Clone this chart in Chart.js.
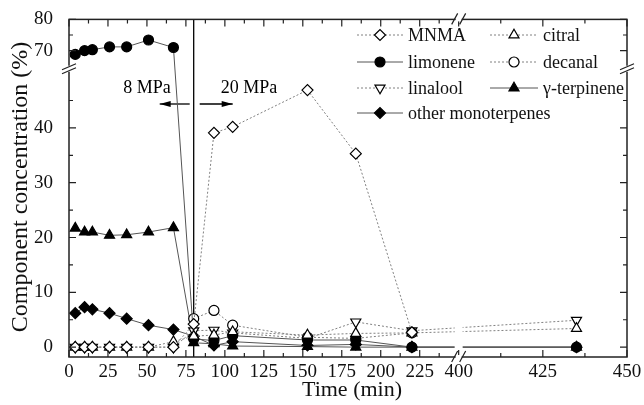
<!DOCTYPE html>
<html><head><meta charset="utf-8">
<script src="https://cdn.jsdelivr.net/npm/chart.js@4/dist/chart.umd.min.js"></script>
<style>html,body{margin:0;padding:0;background:#fff}#wrap{width:644px;height:405px;position:relative}</style>
</head><body><div id="wrap"><canvas id="c"></canvas></div>
<script>
// ---- data ----
const times = [4, 10, 15, 26, 37, 51, 67, 80, 93, 105, 153, 184, 220, 435];
const mnma = [0, 0, 0, 0, 0, 0, 0, 4.2, 39.1, 40.2, 46.9, 35.3, 2.7, null];
const citral = [0, 0, 0, 0, 0, 0, 1.0, 2.0, 2.2, 2.8, 2.2, 2.5, 2.6, 3.4];
const limonene = [68.8, 70.0, 70.3, 71.2, 71.2, 73.4, 71.0, 1.5, 1.2, 2.1, 1.3, 1.3, 0, 0];
const decanal = [null, null, null, null, null, null, null, 5.2, 6.7, 4.0, 1.8, 1.6, 2.6, null];
const linalool = [0, 0, 0, 0, 0, 0, 0, 3.0, 3.1, 2.6, 1.6, 4.6, 3.0, 4.9];
const gammaTerpinene = [21.7, 21.0, 21.0, 20.4, 20.5, 21.0, 21.8, 0.8, 0.6, 0.2, 0.1, 0, 0, 0];
const otherMonoterpenes = [6.2, 7.3, 6.9, 6.2, 5.2, 4.0, 3.2, 2.0, 0.3, 1.0, 0.3, 0.5, 0, 0];
const seriesNames = ['MNMA', 'citral', 'limonene', 'decanal', 'linalool', '\u03b3-terpinene', 'other monoterpenes'];
const xTickLabels = [0, 25, 50, 75, 100, 125, 150, 175, 200, 225, 400, 425, 450];
const yTickLabels = [0, 10, 20, 30, 40, 70, 80];
const xMinorTicks = [12.5, 37.5, 62.5, 87.5, 112.5, 137.5, 162.5, 187.5, 212.5, 237.5, 412.5, 437.5];
const yMinorTicks = [5, 15, 25, 35, 45, 75];
const pressureChangeTime = 80;

// ---- broken-axis transforms ----
const X_BREAK_LO = 250, X_BREAK_HI = 400, X_SCALE2 = 2.16;
function tx(t) { return t <= X_BREAK_LO ? t : X_BREAK_LO + (t - X_BREAK_HI) * X_SCALE2; }
const Y_BREAK = 52, Y_UP_BASE = 70, Y_UP_AT = 54.1, Y_SCALE2 = 0.57;
function ty(v) { return v <= Y_BREAK ? v : Y_UP_AT + (v - Y_UP_BASE) * Y_SCALE2; }

function pts(vals) {
  const out = [];
  times.forEach((t, i) => { if (vals[i] != null) out.push({ x: tx(t), y: ty(vals[i]) }); });
  return out;
}

const FONT = "'Liberation Serif', 'Times New Roman', serif";
const DOT = '#808080', SOLID = '#555';

function ds(label, vals, style, filled, dotted, radius, rotation) {
  return {
    label, data: pts(vals),
    borderColor: dotted ? DOT : SOLID, borderWidth: 1, borderDash: dotted ? [2, 2] : [],
    pointStyle: style, pointRotation: rotation || 0, pointRadius: radius,
    pointBackgroundColor: filled ? '#000' : '#fff', pointBorderColor: '#000', pointBorderWidth: 1.2,
    showLine: true, tension: 0
  };
}

const datasets = [
  ds(seriesNames[0], mnma, 'rectRot', false, true, 5.5),
  ds(seriesNames[1], citral, 'triangle', false, true, 5.8),
  ds(seriesNames[2], limonene, 'circle', true, false, 5),
  ds(seriesNames[3], decanal, 'circle', false, true, 5),
  ds(seriesNames[4], linalool, 'triangle', false, true, 5.8, 180),
  ds(seriesNames[5], gammaTerpinene, 'triangle', true, false, 5.8),
  ds(seriesNames[6], otherMonoterpenes, 'rectRot', true, false, 5.5)
];

function arrow(ctx, x1, y, x2) {
  ctx.beginPath(); ctx.moveTo(x1, y); ctx.lineTo(x2, y); ctx.stroke();
  const d = x2 > x1 ? 1 : -1;
  ctx.beginPath(); ctx.moveTo(x2, y); ctx.lineTo(x2 - d * 11, y - 3); ctx.lineTo(x2 - d * 11, y + 3); ctx.closePath(); ctx.fill();
}

const decor = {
  id: 'decor',
  beforeDatasetsDraw(chart) {
    const { ctx, chartArea: a, scales: { x } } = chart;
    const vx = x.getPixelForValue(tx(pressureChangeTime));
    ctx.save();
    ctx.strokeStyle = '#000'; ctx.fillStyle = '#000'; ctx.lineWidth = 1.3;
    ctx.beginPath(); ctx.moveTo(vx, a.top); ctx.lineTo(vx, a.bottom); ctx.stroke();
    arrow(ctx, vx - 4, 104, vx - 34);
    arrow(ctx, vx + 6, 104, vx + 39);
    ctx.font = '18px ' + FONT; ctx.textBaseline = 'middle';
    ctx.textAlign = 'right'; ctx.fillText('8 MPa', vx - 23, 88);
    ctx.textAlign = 'left'; ctx.fillText('20 MPa', vx + 27, 88);
    ctx.restore();
  },
  afterDatasetsDraw(chart) {
    const { ctx, chartArea: a, scales: { x, y } } = chart;
    const bx = x.getPixelForValue(tx(X_BREAK_LO));
    const by = y.getPixelForValue(50.8);
    ctx.save();
    ctx.fillStyle = '#fff';
    ctx.fillRect(bx - 4, a.bottom - 60, 8, 59);
    ctx.strokeStyle = '#222'; ctx.lineWidth = 1.5;
    ctx.strokeRect(a.left, a.top, a.right - a.left, a.bottom - a.top);
    ctx.lineWidth = 1.2;
    ctx.beginPath();
    xTickLabels.forEach(v => { const p = x.getPixelForValue(tx(v)); ctx.moveTo(p, a.bottom); ctx.lineTo(p, a.bottom - 7); ctx.moveTo(p, a.top); ctx.lineTo(p, a.top + 7); });
    xMinorTicks.forEach(v => { const p = x.getPixelForValue(tx(v)); ctx.moveTo(p, a.bottom); ctx.lineTo(p, a.bottom - 4); ctx.moveTo(p, a.top); ctx.lineTo(p, a.top + 4); });
    yTickLabels.forEach(v => { const p = y.getPixelForValue(ty(v)); ctx.moveTo(a.left, p); ctx.lineTo(a.left + 7, p); ctx.moveTo(a.right, p); ctx.lineTo(a.right - 7, p); });
    yMinorTicks.forEach(v => { const p = y.getPixelForValue(ty(v)); ctx.moveTo(a.left, p); ctx.lineTo(a.left + 4, p); ctx.moveTo(a.right, p); ctx.lineTo(a.right - 4, p); });
    ctx.stroke();
    ctx.fillStyle = '#fff';
    [a.bottom, a.top].forEach(yy => {
      ctx.fillRect(bx - 3, yy - 2, 6, 4);
      ctx.beginPath();
      ctx.moveTo(bx - 7, yy + 5); ctx.lineTo(bx - 1, yy - 6);
      ctx.moveTo(bx + 1, yy + 5); ctx.lineTo(bx + 7, yy - 6);
      ctx.stroke();
    });
    [a.left, a.right].forEach(xx => {
      ctx.fillRect(xx - 2, by - 3, 4, 6);
      ctx.beginPath();
      ctx.moveTo(xx - 7, by + 1); ctx.lineTo(xx + 7, by - 5);
      ctx.moveTo(xx - 7, by + 5); ctx.lineTo(xx + 7, by - 1);
      ctx.stroke();
    });
    ctx.restore();
  },
  afterDraw(chart) {
    const { ctx } = chart;
    ctx.save();
    ctx.fillStyle = '#111'; ctx.font = '22px ' + FONT; ctx.textAlign = 'center'; ctx.textBaseline = 'middle';
    ctx.fillText('Time (min)', 352, 390);
    ctx.font = '24px ' + FONT;
    ctx.translate(21, 187); ctx.rotate(-Math.PI / 2);
    ctx.fillText('Component concentration (%)', 0, 0);
    ctx.restore();
    ctx.save();
    const cols = [{ x0: 357, x1: 403, tx: 408 }, { x0: 490, x1: 538, tx: 543 }];
    const rows = [35, 62, 88, 113];
    chart.data.datasets.forEach((d, i) => {
      const c = cols[i % 2], yy = rows[Math.floor(i / 2)];
      ctx.strokeStyle = d.borderColor; ctx.lineWidth = 1; ctx.setLineDash(d.borderDash);
      ctx.beginPath(); ctx.moveTo(c.x0, yy); ctx.lineTo(c.x1, yy); ctx.stroke();
      ctx.setLineDash([]);
      ctx.fillStyle = d.pointBackgroundColor; ctx.strokeStyle = d.pointBorderColor; ctx.lineWidth = d.pointBorderWidth;
      Chart.helpers.drawPoint(ctx, { pointStyle: d.pointStyle, rotation: d.pointRotation, radius: d.pointRadius, borderWidth: d.pointBorderWidth }, (c.x0 + c.x1) / 2, yy);
      ctx.fillStyle = '#111'; ctx.font = '18px ' + FONT; ctx.textAlign = 'left'; ctx.textBaseline = 'middle';
      ctx.fillText(d.label, c.tx, yy + 1);
    });
    ctx.restore();
  }
};

new Chart(document.getElementById('c'), {
  type: 'scatter',
  data: { datasets },
  options: {
    responsive: true, maintainAspectRatio: false, animation: false, devicePixelRatio: 1,
    layout: { padding: { top: 16, right: 17, left: 0, bottom: 0 } },
    plugins: { legend: { display: false }, tooltip: { enabled: false } },
    scales: {
      x: {
        type: 'linear', min: 0, max: tx(450),
        afterBuildTicks: s => { s.ticks = xTickLabels.map(v => ({ value: tx(v) })); },
        afterFit: s => { s.height = 48; },
        ticks: { autoSkip: false, maxRotation: 0, padding: -4, color: '#111', font: { family: FONT, size: 19 },
          callback: (v, i) => String(xTickLabels[i]) },
        grid: { display: false }, border: { display: false }
      },
      y: {
        type: 'linear', min: -1.8, max: ty(80),
        afterBuildTicks: s => { s.ticks = yTickLabels.map(v => ({ value: ty(v) })); },
        afterFit: s => { s.width = 69; },
        ticks: { autoSkip: false, padding: 8, color: '#111', font: { family: FONT, size: 19 },
          callback: (v, i) => String(yTickLabels[i]) },
        grid: { display: false }, border: { display: false }
      }
    }
  },
  plugins: [decor]
});
</script>
</body></html>
